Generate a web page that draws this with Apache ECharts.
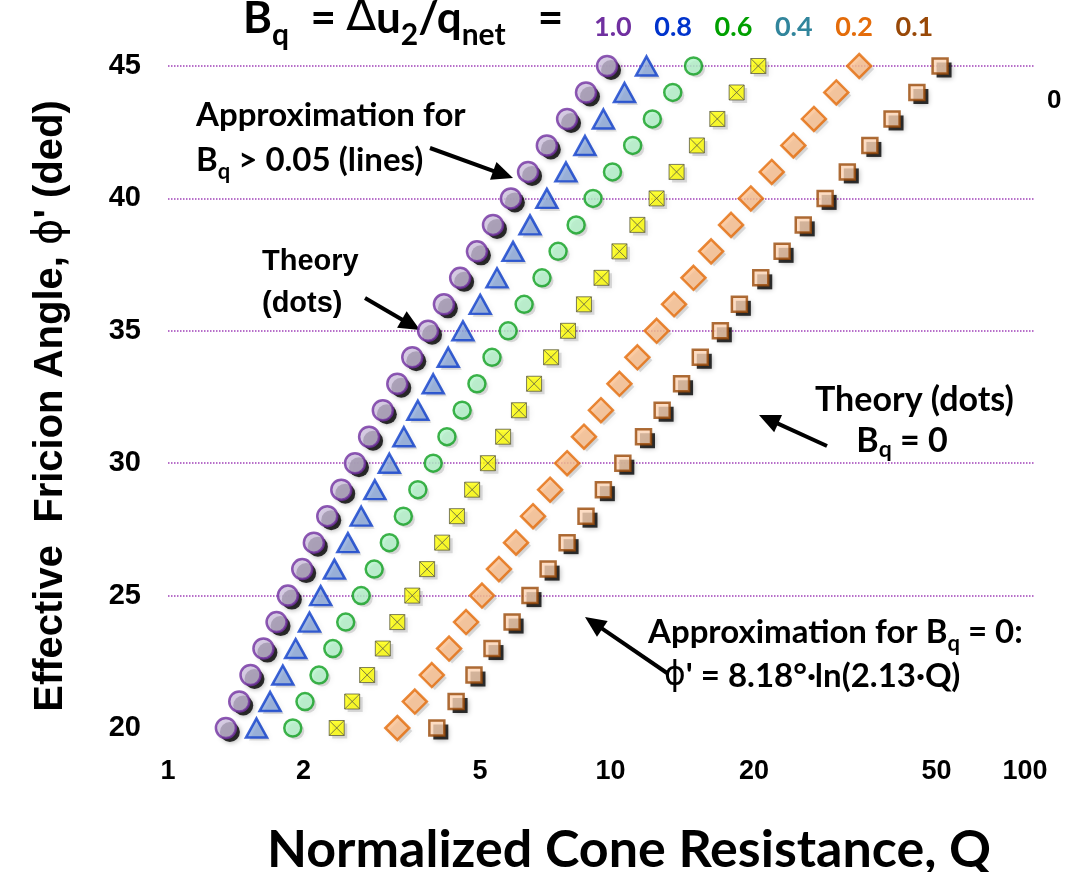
<!DOCTYPE html>
<html>
<head>
<meta charset="utf-8">
<script src="https://cdn.jsdelivr.net/npm/echarts@6/dist/echarts.min.js"></script>
<style>
  html, body { margin: 0; padding: 0; background: #ffffff; }
  #chart { width: 1089px; height: 872px; }
</style>
</head>
<body>
<div id="chart"></div>
<script>
// Effective friction angle (deg) for each row of points
const frictionAngle = [20, 21, 22, 23, 24, 25, 26, 27, 28, 29, 30, 31, 32, 33, 34, 35, 36, 37, 38, 39, 40, 41, 42, 43, 44, 45];

// Normalized cone resistance Q for each pore-pressure ratio Bq
const qBq10 = [1.36, 1.46, 1.55, 1.66, 1.78, 1.89, 2.04, 2.17, 2.33, 2.51, 2.70, 2.91, 3.13, 3.38, 3.66, 3.98, 4.33, 4.72, 5.16, 5.62, 6.18, 6.77, 7.48, 8.33, 9.21, 10.3];
const qBq08 = [1.60, 1.72, 1.84, 1.97, 2.12, 2.25, 2.42, 2.60, 2.79, 3.00, 3.24, 3.50, 3.77, 4.09, 4.43, 4.79, 5.25, 5.74, 6.25, 6.84, 7.48, 8.28, 9.16, 10.1, 11.3, 12.7];
const qBq06 = [1.94, 2.07, 2.23, 2.40, 2.57, 2.79, 2.99, 3.24, 3.49, 3.77, 4.09, 4.40, 4.77, 5.16, 5.59, 6.09, 6.63, 7.29, 7.94, 8.74, 9.56, 10.6, 11.8, 13.1, 14.6, 16.3];
const qBq04 = [2.45, 2.66, 2.88, 3.13, 3.38, 3.66, 3.96, 4.29, 4.64, 5.03, 5.47, 5.93, 6.45, 6.99, 7.65, 8.37, 9.11, 10.0, 11.0, 12.1, 13.4, 14.9, 16.6, 18.5, 20.5, 23.0];
const qBq02 = [3.38, 3.71, 4.06, 4.45, 4.87, 5.30, 5.80, 6.35, 6.95, 7.61, 8.33, 9.11, 9.97, 11.0, 12.1, 13.4, 14.7, 16.3, 17.9, 19.9, 22.1, 24.7, 27.7, 30.9, 34.8, 39.3];
const qBq01 = [4.17, 4.62, 5.08, 5.59, 6.22, 6.84, 7.53, 8.33, 9.21, 10.1, 11.2, 12.5, 13.8, 15.3, 16.9, 18.8, 20.8, 23.3, 26.1, 29.2, 32.8, 36.9, 41.6, 46.8, 53.4, 60.4];

// Axis tick labels
const qTicks = [1, 2, 5, 10, 20, 50, 100];
const angleTicks = [20, 25, 30, 35, 40, 45];

// Bq legend entries shown in the header
const bqLabels = ['1.0', '0.8', '0.6', '0.4', '0.2', '0.1'];
const bqColors = ['#7030a0', '#0033cc', '#00a000', '#31859c', '#e46c0a', '#984807'];

const pairs = (qs) => qs.map((q, i) => [q, frictionAngle[i]]);

const CAL = 'Lato, "Open Sans", sans-serif';
const ARI = '"Liberation Sans", Arial, sans-serif';

// A marker series drawn on top of its own drop-shadow series
function markerSeries(name, data, symbol, size, style, hardShadow) {
  const shade = {
    name: name + ' shade', type: 'scatter', data: pairs(data), symbol, symbolSize: size,
    symbolOffset: hardShadow ? [4, 4] : [3, 3],
    clip: false, silent: true, emphasis: { disabled: true },
    itemStyle: hardShadow
      ? { color: '#000000', shadowColor: 'rgba(0,0,0,0.35)', shadowBlur: 5, shadowOffsetX: 1, shadowOffsetY: 1 }
      : { color: 'rgba(90,90,90,0.25)', shadowColor: 'rgba(0,0,0,0.38)', shadowBlur: 6 }
  };
  const main = {
    name, type: 'scatter', data: pairs(data), symbol, symbolSize: size,
    clip: false, silent: true, emphasis: { disabled: true },
    itemStyle: style
  };
  return [shade, main];
}

// Arrow annotation: shaft plus a filled head at (x2, y2)
function arrow(x1, y1, x2, y2) {
  const ang = Math.atan2(y2 - y1, x2 - x1);
  const len = 21, half = 9.5;
  const bx = x2 - len * Math.cos(ang), by = y2 - len * Math.sin(ang);
  const px = -Math.sin(ang) * half, py = Math.cos(ang) * half;
  return {
    type: 'group', silent: true,
    children: [
      { type: 'line', shape: { x1, y1, x2: bx + 2 * Math.cos(ang), y2: by + 2 * Math.sin(ang) }, style: { stroke: '#000', lineWidth: 4 } },
      { type: 'polygon', shape: { points: [[x2, y2], [bx + px, by + py], [bx - px, by - py]] }, style: { fill: '#000' } }
    ]
  };
}

function richText(left, top, text, rich) {
  return { type: 'text', left, top, silent: true, style: { text, rich, fill: '#000' } };
}

// Main text plus lowered subscript pieces
const subRich = (size, font, lh) => ({
  m: { fontSize: size, fontWeight: 'bold', fontFamily: font, lineHeight: lh, verticalAlign: 'middle', fill: '#000' },
  s: { fontSize: Math.round(size * 0.68), fontWeight: 'bold', fontFamily: font, lineHeight: lh, verticalAlign: 'bottom', fill: '#000' },
  d: { fontSize: size, fontWeight: 'normal', fontFamily: '"DejaVu Sans", sans-serif', lineHeight: lh, verticalAlign: 'middle', fill: '#000' }
});

const graphics = [];

// Header: Bq definition and series values
graphics.push(richText(243, -3, '{m|B}{s|q}{m|  = }{d|\u2206}{m|u}{s|2}{m|/q}{s|net}{m|   =}', subRich(44, CAL, 62)));
bqLabels.forEach((t, i) => {
  graphics.push({
    type: 'text', left: 594 + i * 60.3, top: 14, silent: true,
    style: { text: t, fill: bqColors[i], fontSize: 27, fontWeight: 'bold', fontFamily: CAL }
  });
});

// Annotations
graphics.push(richText(196, 99, '{m|Approximation for}\n{m|B}{s|q}{m| > 0.05 (lines)}', subRich(33, CAL, 45)));
graphics.push({
  type: 'text', left: 262, top: 241, silent: true,
  style: { text: 'Theory\n(dots)', fill: '#000', fontSize: 29, fontWeight: 'bold', fontFamily: ARI, lineHeight: 42 }
});
graphics.push(richText(815, 383, '{m|Theory (dots)}\n{m|     B}{s|q}{m| = 0}', subRich(34, CAL, 41)));
graphics.push(richText(648, 616, '{m|Approximation for B}{s|q}{m| = 0:}\n{m|  }{d|\u03d5}{m|\' = 8.18\u00b0\u00b7ln(2.13\u00b7Q)}', subRich(33, CAL, 44)));
graphics.push({
  type: 'text', left: 1047, top: 88, silent: true,
  style: { text: '0', fill: '#000', fontSize: 26, fontWeight: 'bold', fontFamily: ARI }
});

graphics.push(arrow(430, 148, 513, 178));
graphics.push(arrow(365, 298, 420, 330));
graphics.push(arrow(827, 446, 759, 415));
graphics.push(arrow(667, 673, 585, 617));

// Axis titles
graphics.push({
  type: 'text', x: 629, y: 850, silent: true,
  style: { text: 'Normalized Cone Resistance, Q', fill: '#000', fontSize: 52, fontWeight: 'bold', fontFamily: CAL, align: 'center', verticalAlign: 'middle' }
});
graphics.push({
  type: 'text', x: 51, y: 406, rotation: Math.PI / 2, silent: true,
  style: {
    text: '{t|Effective  Fricion Angle, }{p|\u03d5}{t|\' (ded)}', align: 'center', verticalAlign: 'middle',
    rich: {
      t: { fontSize: 40, fontWeight: 'bold', fontFamily: ARI, fill: '#000' },
      p: { fontSize: 40, fontWeight: 'normal', fontFamily: '"DejaVu Sans", sans-serif', fill: '#000' }
    }
  }
});

// Per-label horizontal nudges for the Q tick labels
const qLabelShift = { 1: 0, 2: 5, 5: 9, 10: 9, 20: 22, 50: 32, 100: -10 };
const qLabelRich = {};
qTicks.forEach((v) => {
  const dx = qLabelShift[v];
  qLabelRich['q' + v] = {
    fontSize: 27, fontWeight: 'bold', fontFamily: ARI, color: '#000',
    padding: dx >= 0 ? [0, 0, 0, 2 * dx] : [0, -2 * dx, 0, 0]
  };
});

const chart = echarts.init(document.getElementById('chart'), null, { renderer: 'canvas' });
chart.setOption({
  animation: false,
  backgroundColor: '#ffffff',
  grid: { left: 168, right: 54, top: 66, bottom: 144, containLabel: false },
  xAxis: {
    type: 'log', logBase: 10, min: 1, max: 100,
    axisLine: { show: false }, axisTick: { show: false },
    splitLine: { show: false }, minorTick: { show: false }, minorSplitLine: { show: false },
    axisLabel: {
      customValues: qTicks, margin: 30,
      formatter: (v) => '{q' + Math.round(v) + '|' + Math.round(v) + '}',
      rich: qLabelRich
    }
  },
  yAxis: {
    type: 'value', min: 20, max: 45, interval: 5,
    axisLine: { show: false }, axisTick: { show: false },
    axisLabel: {
      customValues: angleTicks, margin: 27,
      fontSize: 29, fontWeight: 'bold', fontFamily: ARI, color: '#000'
    },
    splitLine: { show: true, showMinLine: false, lineStyle: { color: '#a040b8', type: 'dotted', width: 1.5 } }
  },
  series: [].concat(
    markerSeries('Bq 0.1', qBq01, 'rect', 15, { color: '#fcd5b5', borderColor: '#984807', borderWidth: 2.5 }, true),
    markerSeries('Bq 0.2', qBq02, 'diamond', [24, 24], { color: '#fabf8f', borderColor: '#e46c0a', borderWidth: 2.5 }, false),
    markerSeries('Bq 0.4', qBq04, 'path://M0,0H10V10H0Z M0,0L10,10 M10,0L0,10', 15, { color: '#ffff00', borderColor: '#5c5c44', borderWidth: 1 }, false),
    markerSeries('Bq 0.6', qBq06, 'circle', 17, { color: '#b3f2c9', borderColor: '#10a020', borderWidth: 2.5 }, false),
    markerSeries('Bq 0.8', qBq08, 'triangle', [21, 19], { color: '#8aa6d8', borderColor: '#0f3fcc', borderWidth: 2.5 }, false),
    markerSeries('Bq 1.0', qBq10, 'circle', 20, { color: '#cbbedb', borderColor: '#7030a0', borderWidth: 2.5 }, true)
  ),
  graphic: graphics
});
</script>
</body>
</html>
